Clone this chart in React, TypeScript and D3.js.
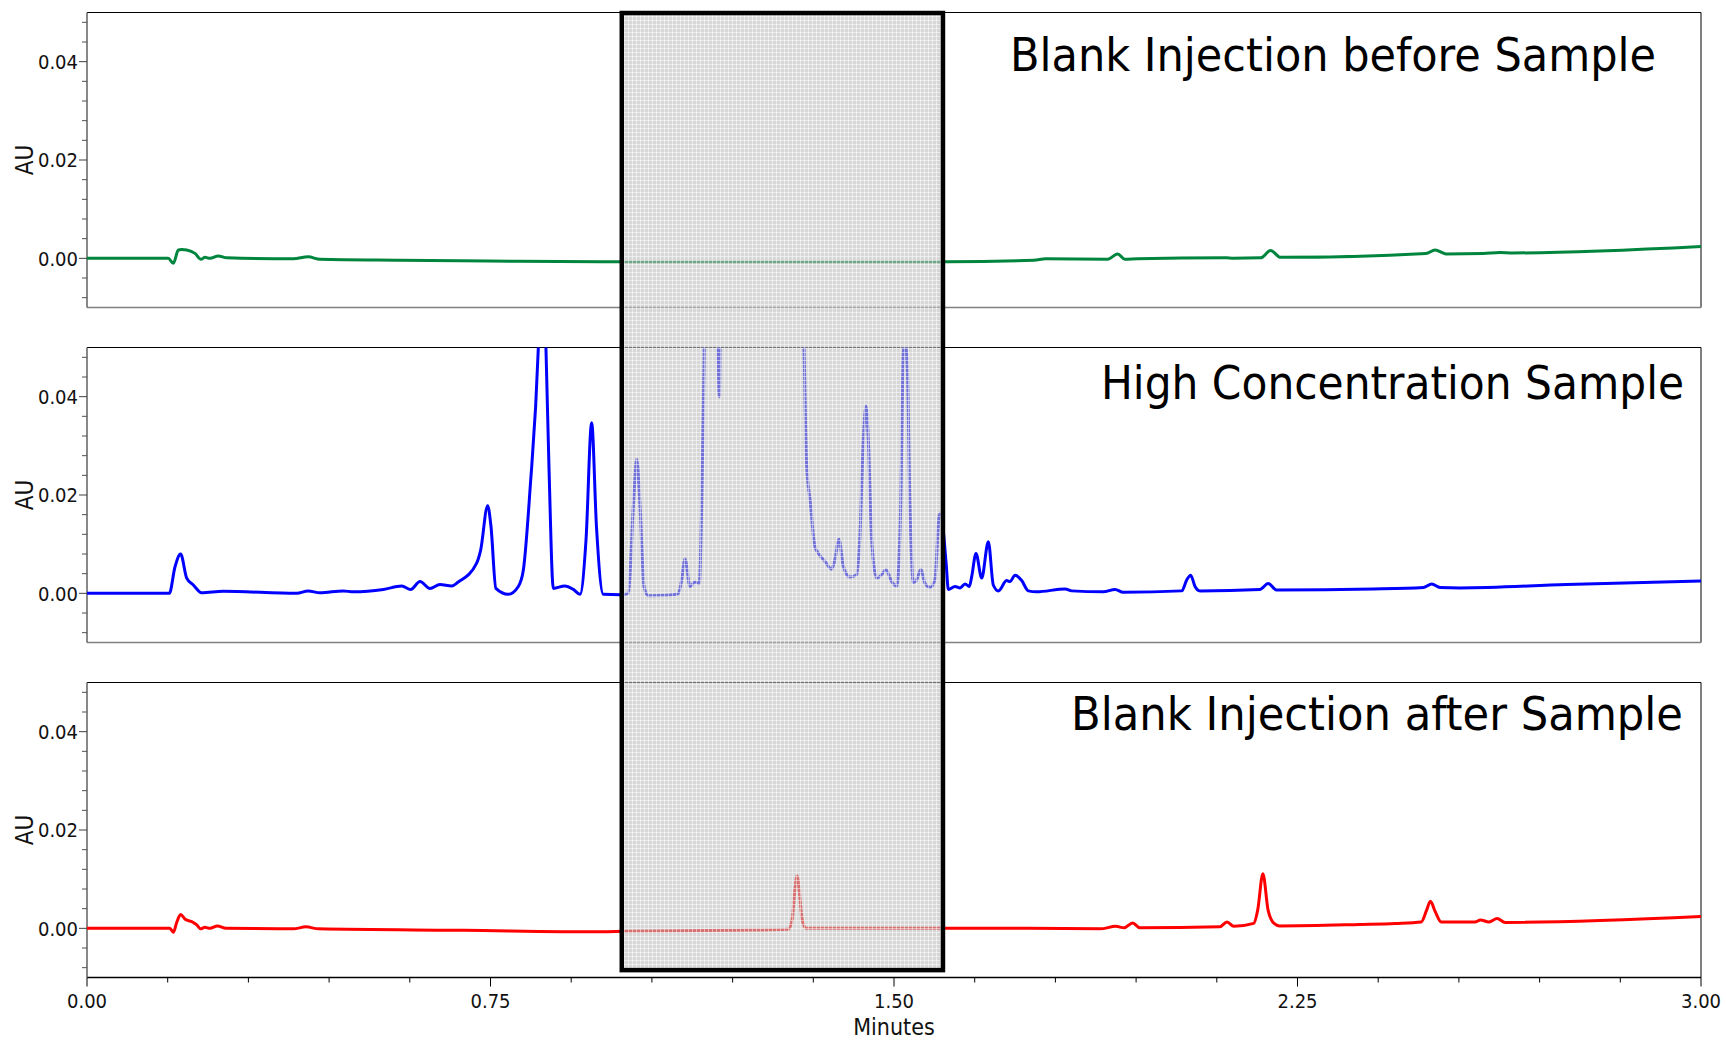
import React from 'react';
import * as d3 from 'd3';

type Pt = [number, number];

// ---- DATA (minutes, AU) ----
const blankBefore: Pt[] = [
  [0, 0], [0.151, 0], [0.1605, -0.001], [0.1698, 0.0017], [0.176, 0.0018], [0.1853, 0.0017],
  [0.2007, 0.001], [0.2119, -0.0002], [0.2193, 0.0002], [0.2286, 0.0], [0.244, 0.0005],
  [0.2597, 0.0001], [0.3835, -0.0001], [0.411, 0.0003], [0.433, -0.0002], [0.582, -0.0004],
  [0.8, -0.0006], [1.0, -0.0007], [1.3, -0.0007], [1.6, -0.0007], [1.76, -0.0004],
  [1.782, -0.0001], [1.897, -0.0002], [1.9157, 0.0009], [1.929, -0.0002], [1.952, -0.0001],
  [2.1177, 0.0001], [2.13, 0.0], [2.1818, 0.0001], [2.2, 0.0016], [2.2186, 0.0002],
  [2.489, 0.001], [2.5056, 0.0017], [2.526, 0.0009], [2.595, 0.001], [2.626, 0.0012],
  [2.65, 0.0011], [3.0, 0.0024],
];

const highSample: Pt[] = [
  [0, 0], [0.153, 0], [0.1636, 0.0054], [0.174, 0.008], [0.1853, 0.0031], [0.1976, 0.0017],
  [0.213, 0.0001], [0.253, 0.0004], [0.39, 0.0], [0.411, 0.0005], [0.433, 0.0001],
  [0.4765, 0.0005], [0.495, 0.0003], [0.551, 0.0008], [0.585, 0.0015], [0.6016, 0.0008],
  [0.619, 0.0024], [0.6375, 0.001], [0.656, 0.0018], [0.678, 0.0015], [0.69, 0.0023],
  [0.724, 0.0061], [0.7317, 0.0088], [0.7447, 0.0178], [0.7509, 0.0136], [0.76, 0.001],
  [0.783, -0.0002], [0.8017, 0.0014], [0.811, 0.0047], [0.8234, 0.021], [0.839, 0.0502],
  [0.846, 0.075], [0.853, 0.0502], [0.859, 0.0244], [0.8668, 0.001], [0.888, 0.0015],
  [0.904, 0.0008], [0.9164, -0.0002], [0.9275, 0.0108], [0.938, 0.0347], [0.947, 0.0135],
  [0.9597, -0.0002], [0.9907, -0.0003], [1.006, 0.0], [1.0155, 0.0176], [1.0217, 0.0273],
  [1.028, 0.0176], [1.0353, 0.0014], [1.0434, -0.0005], [1.0775, -0.0004], [1.099, -0.0001],
  [1.1053, 0.0027], [1.1115, 0.007], [1.1208, 0.0014], [1.13, 0.0023], [1.138, 0.002],
  [1.1425, 0.0176], [1.1474, 0.0502], [1.158, 0.09], [1.17, 0.07], [1.1753, 0.04],
  [1.1785, 0.07], [1.25, 0.12], [1.3277, 0.07], [1.3327, 0.0502], [1.3377, 0.0258],
  [1.344, 0.019], [1.353, 0.0095], [1.359, 0.0082], [1.3717, 0.0065], [1.384, 0.0049],
  [1.39, 0.0068], [1.3978, 0.011], [1.4058, 0.0055], [1.418, 0.0033], [1.4306, 0.0038],
  [1.4368, 0.012], [1.443, 0.0312], [1.448, 0.0381], [1.4523, 0.0312], [1.4585, 0.0108],
  [1.468, 0.0031], [1.477, 0.0038], [1.485, 0.0048], [1.4957, 0.0024], [1.505, 0.0015],
  [1.5124, 0.0176], [1.5174, 0.049], [1.52, 0.0515], [1.5247, 0.046], [1.5297, 0.0176],
  [1.536, 0.0022], [1.542, 0.0027], [1.55, 0.0049], [1.5576, 0.002], [1.567, 0.0012],
  [1.576, 0.0027], [1.5842, 0.0159], [1.5865, 0.0162], [1.597, 0.006], [1.601, 0.0008],
  [1.6134, 0.0014], [1.6227, 0.0011], [1.632, 0.0019], [1.64, 0.0014], [1.6444, 0.0034],
  [1.6524, 0.0081], [1.663, 0.0031], [1.6753, 0.0105], [1.6846, 0.0017], [1.694, 0.0005],
  [1.7095, 0.0026], [1.7156, 0.0024], [1.725, 0.0037], [1.7373, 0.0026], [1.7497, 0.0005],
  [1.765, 0.0003], [1.818, 0.0009], [1.83, 0.0005], [1.889, 0.0003], [1.911, 0.0008],
  [1.926, 0.0002], [2.035, 0.0005], [2.044, 0.0027], [2.0514, 0.0037], [2.0595, 0.0014],
  [2.0688, 0.0005], [2.18, 0.0008], [2.1957, 0.002], [2.211, 0.0007], [2.391, 0.0009],
  [2.484, 0.0012], [2.4994, 0.0019], [2.515, 0.0012], [2.552, 0.0011], [2.75, 0.0018],
  [3.0, 0.0025],
];

const blankAfter: Pt[] = [
  [0, 0], [0.154, 0], [0.1605, -0.0008], [0.1667, 0.0012], [0.174, 0.0028], [0.182, 0.0019],
  [0.1976, 0.0012], [0.204, 0.0007], [0.2113, -0.0001], [0.219, 0.0002], [0.2286, 0.0],
  [0.2422, 0.0005], [0.2584, 0.0], [0.3835, -0.0001], [0.407, 0.0003], [0.43, -0.0001],
  [0.7, -0.0004], [0.954, -0.0007], [1.0, -0.0006], [1.2, -0.0004], [1.3036, -0.0002],
  [1.311, 0.002], [1.316, 0.008], [1.3197, 0.0107], [1.3235, 0.008], [1.329, 0.002],
  [1.336, 0.0], [1.5855, 0.0], [1.75, 0.0], [1.883, -0.0001], [1.9126, 0.0004],
  [1.9275, 0.0001], [1.9436, 0.0011], [1.957, 0.0001], [2.1055, 0.0003], [2.119, 0.0013],
  [2.1314, 0.0004], [2.1686, 0.001], [2.176, 0.0037], [2.1857, 0.0111], [2.1953, 0.0037],
  [2.2064, 0.001], [2.2167, 0.0005], [2.365, 0.0008], [2.432, 0.001], [2.48, 0.0013],
  [2.49, 0.0037], [2.497, 0.0055], [2.506, 0.0034], [2.517, 0.0013], [2.58, 0.0013],
  [2.59, 0.0017], [2.606, 0.0013], [2.621, 0.002], [2.636, 0.0012], [3.0, 0.0024],
];

const panelTitles = ['Blank Injection before Sample', 'High Concentration Sample', 'Blank Injection after Sample'];
const seriesColors = ['#00853e', '#0000ff', '#ff0000'];
const xDomain: [number, number] = [0, 3];
const yDomain: [number, number] = [-0.01, 0.05];
const xMajorTicks = [0, 0.75, 1.5, 2.25, 3.0];
const xMinorTicks = [0.15, 0.3, 0.45, 0.6, 0.9, 1.05, 1.2, 1.35, 1.65, 1.8, 1.95, 2.1, 2.4, 2.55, 2.7, 2.85];
const yMajorTicks = [0, 0.02, 0.04];
const yMinorTicks = [-0.008, -0.004, 0.004, 0.008, 0.012, 0.016, 0.024, 0.028, 0.032, 0.036, 0.044, 0.048];
const highlightWindow: [number, number] = [0.994, 1.591];
const highlightAU: [number, number] = [0.05, -0.0085];
const xAxisTitle = 'Minutes';
const yAxisTitle = 'AU';

// ---- LAYOUT ----
const W = 1726, H = 1042;
const X0 = 87, X1 = 1701;
const PANEL_TOPS = [12.5, 347.5, 682.5];
const PANEL_H = 295;
const TITLE_LAYOUT = [
  { x: 1656, y: 70.5, len: 646 },
  { x: 1684, y: 399, len: 583 },
  { x: 1683, y: 730, len: 612 },
];
const FONT = "'DejaVu Sans Condensed', 'DejaVu Sans', sans-serif";

export default function App() {
  React.useEffect(() => {
    document.body.style.margin = '0';
  }, []);

  const series = [blankBefore, highSample, blankAfter];
  const x = d3.scaleLinear().domain(xDomain).range([X0, X1]);
  const ys = PANEL_TOPS.map((t) => d3.scaleLinear().domain(yDomain).range([t + PANEL_H, t]));
  const fmt = d3.format('.2f');

  const boxX0 = x(highlightWindow[0]);
  const boxX1 = x(highlightWindow[1]);
  const boxY0 = ys[0](highlightAU[0]) + 0.5;
  const boxY1 = ys[2](highlightAU[1]);

  return (
    <svg width={W} height={H} style={{ position: 'absolute', left: 0, top: 0, display: 'block', background: '#fff' }}
      fontFamily={FONT} fontStretch="condensed">
      <defs>
        {PANEL_TOPS.map((t, i) => (
          <clipPath id={`clip${i}`} key={i}>
            <rect x={X0} y={t} width={X1 - X0} height={PANEL_H} />
          </clipPath>
        ))}
        <pattern id="gridfill" width="4" height="4" patternUnits="userSpaceOnUse">
          <rect width="4" height="4" fill="#bdbdbd" fillOpacity="0.6" />
          <rect x="0" y="0" width="4" height="1" fill="#ffffff" fillOpacity="0.5" />
          <rect x="0" y="0" width="1" height="4" fill="#ffffff" fillOpacity="0.5" />
        </pattern>
      </defs>
      <rect width={W} height={H} fill="#fff" />

      {PANEL_TOPS.map((t, i) => {
        const y = ys[i];
        const bottom = t + PANEL_H;
        const line = d3.line<Pt>().x((d) => x(d[0])).y((d) => y(d[1])).curve(d3.curveMonotoneX);
        return (
          <g key={i}>
            {/* frame */}
            <line x1={X0} x2={X1} y1={t} y2={t} stroke="#000" strokeWidth={1} />
            <line x1={X1} x2={X1} y1={t} y2={bottom} stroke="#000" strokeWidth={1} />
            <line x1={X0} x2={X1} y1={bottom} y2={bottom} stroke={i === 2 ? '#000' : '#808080'} strokeWidth={1.5} />
            <line x1={X0} x2={X0} y1={t} y2={bottom} stroke="#606060" strokeWidth={1.5} />
            {/* y ticks */}
            {yMinorTicks.map((v) => (
              <line key={`m${v}`} x1={X0 - 5} x2={X0} y1={y(v)} y2={y(v)} stroke="#505050" strokeWidth={1} />
            ))}
            {yMajorTicks.map((v) => (
              <g key={`M${v}`}>
                <line x1={X0 - 8} x2={X0} y1={y(v)} y2={y(v)} stroke="#404040" strokeWidth={1} />
                <text x={X0 - 9} y={y(v)} dy="0.36em" textAnchor="end" fontSize={20} fill="#111">
                  {fmt(v)}
                </text>
              </g>
            ))}
            <text transform={`translate(33,${t + PANEL_H / 2}) rotate(-90)`} textAnchor="middle" fontSize={24} fill="#111">
              {yAxisTitle}
            </text>
            {/* trace */}
            <path d={line(series[i]) || ''} fill="none" stroke={seriesColors[i]} strokeWidth={3}
              strokeLinejoin="round" clipPath={`url(#clip${i})`} />
            {/* title */}
            <text x={TITLE_LAYOUT[i].x} y={TITLE_LAYOUT[i].y} textAnchor="end" fontSize={46} fill="#000"
              textLength={TITLE_LAYOUT[i].len} lengthAdjust="spacingAndGlyphs">
              {panelTitles[i]}
            </text>
          </g>
        );
      })}

      {/* x axis on bottom panel */}
      {xMinorTicks.map((v) => (
        <line key={`xm${v}`} x1={x(v)} x2={x(v)} y1={PANEL_TOPS[2] + PANEL_H} y2={PANEL_TOPS[2] + PANEL_H + 5}
          stroke="#000" strokeWidth={1} />
      ))}
      {xMajorTicks.map((v) => (
        <g key={`xM${v}`}>
          <line x1={x(v)} x2={x(v)} y1={PANEL_TOPS[2] + PANEL_H} y2={PANEL_TOPS[2] + PANEL_H + 9} stroke="#000" strokeWidth={1} />
          <text x={x(v)} y={1008} textAnchor="middle" fontSize={20} fill="#111">
            {fmt(v)}
          </text>
        </g>
      ))}
      <text x={x(1.5)} y={1035} textAnchor="middle" fontSize={23} fill="#111">
        {xAxisTitle}
      </text>

      {/* highlighted window */}
      <rect x={boxX0} y={boxY0} width={boxX1 - boxX0} height={boxY1 - boxY0} fill="url(#gridfill)"
        stroke="#000" strokeWidth={4.5} />
    </svg>
  );
}
